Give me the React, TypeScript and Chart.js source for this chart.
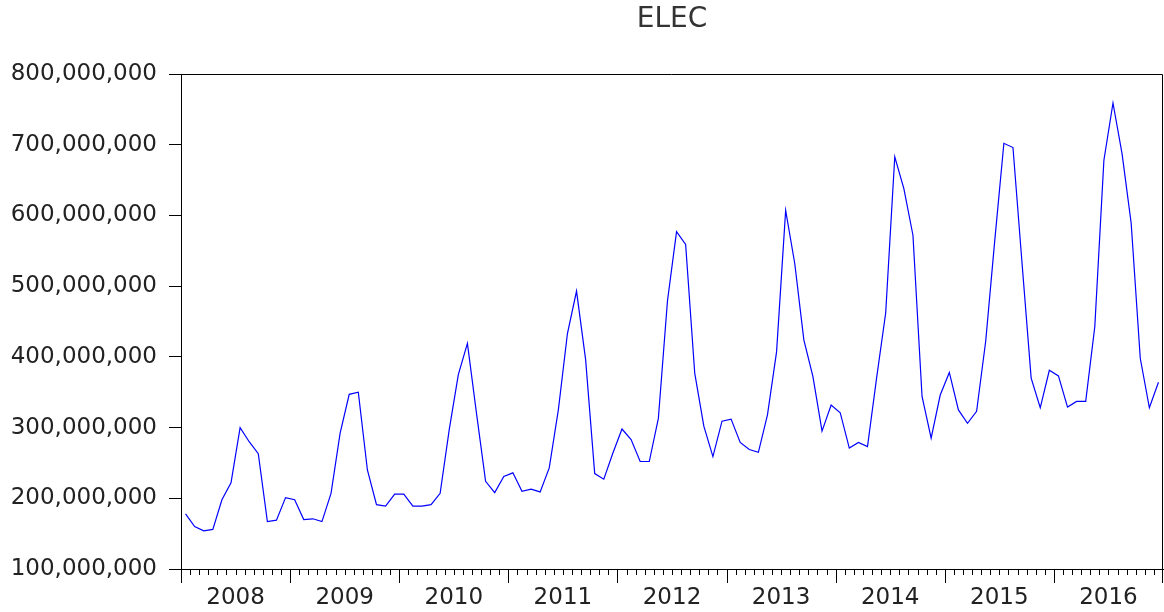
import { useEffect, useRef } from 'react';
import { Chart, registerables } from 'chart.js';

Chart.register(...registerables);

const chartTitle = 'ELEC';
const years = ['2008', '2009', '2010', '2011', '2012', '2013', '2014', '2015', '2016'];

const elec2008 = [178e6, 160e6, 154e6, 156e6, 198e6, 222e6, 300e6, 280e6, 263e6, 167e6, 169e6, 201e6];
const elec2009 = [198e6, 170e6, 171e6, 167e6, 207e6, 292e6, 347e6, 350e6, 240e6, 191e6, 189e6, 206e6];
const elec2010 = [206e6, 189e6, 189e6, 191e6, 207e6, 297e6, 375e6, 419e6, 320e6, 224e6, 208e6, 231e6];
const elec2011 = [236e6, 210e6, 213e6, 209e6, 243e6, 325e6, 433e6, 493e6, 396e6, 235e6, 227e6, 264e6];
const elec2012 = [298e6, 283e6, 252e6, 252e6, 313e6, 479e6, 577e6, 559e6, 377e6, 302e6, 259e6, 309e6];
const elec2013 = [312e6, 279e6, 269e6, 265e6, 318e6, 407e6, 607e6, 532e6, 424e6, 372e6, 295e6, 332e6];
const elec2014 = [321e6, 271e6, 279e6, 273e6, 370e6, 462e6, 683e6, 638e6, 572e6, 344e6, 285e6, 346e6];
const elec2015 = [378e6, 325e6, 306e6, 323e6, 422e6, 565e6, 702e6, 696e6, 532e6, 370e6, 328e6, 381e6];
const elec2016 = [373e6, 329e6, 337e6, 337e6, 443e6, 678e6, 759e6, 687e6, 589e6, 398e6, 328e6, 364e6];

const yMin = 100000000;
const yMax = 800000000;
const yStep = 100000000;

const monthsPerYear = 12;

const framePlugin = {
  id: 'frameAndMonthTicks',
  afterDraw(chart: any) {
    const { ctx, chartArea: a, scales } = chart;
    const xs = scales.x;
    const total = years.length * monthsPerYear;
    ctx.save();
    ctx.strokeStyle = '#000';
    ctx.lineWidth = 1;
    const top = Math.round(a.top) + 0.5;
    const right = Math.round(a.right) - 0.5;
    ctx.beginPath();
    ctx.moveTo(a.left, top);
    ctx.lineTo(right, top);
    ctx.lineTo(right, a.bottom);
    ctx.stroke();
    ctx.beginPath();
    for (let m = 0; m <= total; m++) {
      let px = Math.round(xs.getPixelForValue(m)) + 0.5;
      if (px > right) px = right;
      const len = m % monthsPerYear === 0 ? 14 : 6;
      ctx.moveTo(px, a.bottom);
      ctx.lineTo(px, a.bottom + len);
    }
    ctx.stroke();
    ctx.restore();
  },
};

export default function App() {
  const ref = useRef<HTMLCanvasElement>(null);

  useEffect(() => {
    if (!ref.current) return;
    const series = [
      ...elec2008, ...elec2009, ...elec2010, ...elec2011, ...elec2012,
      ...elec2013, ...elec2014, ...elec2015, ...elec2016,
    ];
    const points = series.map((v, i) => ({ x: i + 0.5, y: v }));
    const totalMonths = years.length * monthsPerYear;
    const font = { family: 'DejaVu Sans', size: 23 };

    const chart = new Chart(ref.current, {
      type: 'line',
      data: {
        datasets: [
          {
            label: chartTitle,
            data: points,
            borderColor: '#0000ff',
            borderWidth: 1.2,
            pointRadius: 0,
            tension: 0,
            fill: false,
          },
        ],
      },
      plugins: [framePlugin],
      options: {
        responsive: false,
        animation: false,
        events: [],
        layout: { padding: { left: 0, right: 1, top: 0, bottom: 0 } },
        plugins: {
          legend: { display: false },
          tooltip: { enabled: false },
          title: {
            display: true,
            text: chartTitle,
            fullSize: false,
            color: '#333',
            font: { family: 'DejaVu Sans', size: 28, weight: 'normal' },
            padding: { top: 2.9, bottom: 37.5 },
          },
        },
        scales: {
          x: {
            type: 'linear',
            min: 0,
            max: totalMonths,
            afterBuildTicks(scale: any) {
              scale.ticks = years.map((_, k) => ({ value: k * monthsPerYear + monthsPerYear / 2 }));
            },
            afterFit(scale: any) {
              scale.height = 43;
              scale.paddingLeft = 0;
              scale.paddingRight = 0;
            },
            grid: {
              display: true,
              drawOnChartArea: false,
              drawTicks: false,
            },
            border: { display: true, color: '#000', width: 1 },
            ticks: {
              autoSkip: false,
              maxRotation: 0,
              minRotation: 0,
              padding: 15,
              color: '#222',
              font,
              callback(value: any) {
                const v = Number(value);
                return years[Math.round((v - monthsPerYear / 2) / monthsPerYear)] ?? '';
              },
            },
          },
          y: {
            type: 'linear',
            min: yMin,
            max: yMax,
            afterFit(scale: any) {
              scale.width = 181;
            },
            grid: {
              drawOnChartArea: false,
              drawTicks: true,
              tickLength: 12,
              tickColor: '#000',
            },
            border: { display: true, color: '#000', width: 1 },
            ticks: {
              stepSize: yStep,
              padding: 12,
              color: '#222',
              font,
              callback(value: any) {
                return Number(value).toLocaleString('en-US');
              },
            },
          },
        },
      },
    });
    return () => chart.destroy();
  }, []);

  return (
    <div style={{ position: 'absolute', left: 0, top: 0, width: 1164, height: 612, background: '#fff' }}>
      <canvas ref={ref} width={1164} height={612} style={{ display: 'block' }} />
    </div>
  );
}
